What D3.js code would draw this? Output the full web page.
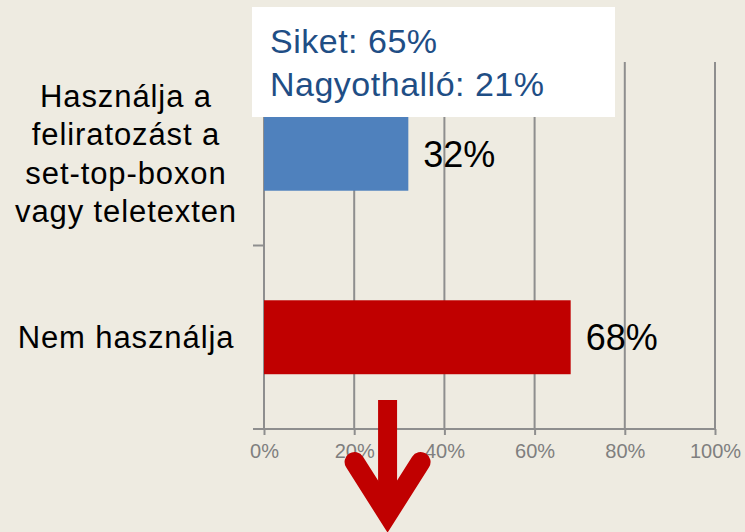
<!DOCTYPE html>
<html>
<head>
<meta charset="utf-8">
<script src="https://cdnjs.cloudflare.com/ajax/libs/d3/7.8.5/d3.min.js"></script>
<style>
  body { margin: 0; background: #EEEBE1; }
  svg { display: block; font-family: "Liberation Sans", Arial, sans-serif; }
</style>
</head>
<body>
<svg id="chart" width="745" height="532"></svg>
<script>
// data
var categories = ["Használja a feliratozást a set-top-boxon vagy teletexten", "Nem használja"];
var categoryLines = [["Használja a", "feliratozást a", "set-top-boxon", "vagy teletexten"], ["Nem használja"]];
var values = [32, 68];
var barColors = ["#4F81BD", "#C00000"];
var tickValues = [0, 20, 40, 60, 80, 100];
var noteLines = ["Siket: 65%", "Nagyothalló: 21%"];

var svg = d3.select("#chart");
var W = 745, H = 532;

svg.append("rect").attr("width", W).attr("height", H).attr("fill", "#EEEBE1");

var x = d3.scaleLinear().domain([0, 100]).range([264, 715]);
var y = d3.scaleBand().domain(categories).range([62, 429])
  .paddingInner(0.597).paddingOuter(0.2985);

// gridlines
svg.append("g").selectAll("line")
  .data(tickValues.slice(1))
  .enter().append("line")
  .attr("x1", d => x(d)).attr("x2", d => x(d))
  .attr("y1", 62).attr("y2", 429)
  .attr("stroke", "#8E8E8E").attr("stroke-width", 2);

// x axis
var xAxis = d3.axisBottom(x).tickValues(tickValues).tickFormat(d => d + "%")
  .tickSizeInner(6).tickSizeOuter(0).tickPadding(9);
var gx = svg.append("g").attr("transform", "translate(0,429)").call(xAxis);
gx.select(".domain").remove();
gx.selectAll(".tick line").attr("stroke", "#8E8E8E").attr("stroke-width", 2);
gx.selectAll(".tick text").attr("fill", "#7F7F7F").attr("font-size", 20)
  .attr("font-family", "'Liberation Sans', Arial, sans-serif");
gx.append("line").attr("x1", 253).attr("x2", x(100)).attr("y1", 0).attr("y2", 0)
  .attr("stroke", "#8E8E8E").attr("stroke-width", 2);

// y axis line + band boundary ticks
svg.append("line").attr("x1", x(0)).attr("x2", x(0)).attr("y1", 62).attr("y2", 429)
  .attr("stroke", "#8E8E8E").attr("stroke-width", 2);
var step = y.step();
svg.append("g").selectAll("line")
  .data(d3.range(categories.length))
  .enter().append("line")
  .attr("x1", 253).attr("x2", x(0))
  .attr("y1", i => 62 + i * step).attr("y2", i => 62 + i * step)
  .attr("stroke", "#8E8E8E").attr("stroke-width", 2);

// bars
svg.append("g").selectAll("rect")
  .data(values)
  .enter().append("rect")
  .attr("x", x(0))
  .attr("y", (d, i) => y(categories[i]))
  .attr("width", d => x(d) - x(0))
  .attr("height", y.bandwidth())
  .attr("fill", (d, i) => barColors[i]);

// value labels
svg.append("g").selectAll("text")
  .data(values)
  .enter().append("text")
  .attr("x", d => x(d) + 15)
  .attr("y", (d, i) => y(categories[i]) + y.bandwidth() / 2 + 13)
  .attr("font-size", 36)
  .attr("fill", "#000")
  .text(d => d + "%");

// category labels
var lineH = 38.5;
categories.forEach(function (c, i) {
  var lines = categoryLines[i];
  var cy = y(c) + y.bandwidth() / 2;
  var t = svg.append("text")
    .attr("text-anchor", "middle")
    .attr("font-size", 31)
    .attr("letter-spacing", 0.9)
    .attr("fill", "#000");
  lines.forEach(function (ln, j) {
    t.append("tspan")
      .attr("x", 126)
      .attr("y", cy + 10.5 + (j - (lines.length - 1) / 2) * lineH)
      .text(ln);
  });
});

// note box
svg.append("rect").attr("x", 252).attr("y", 7).attr("width", 363).attr("height", 110)
  .attr("fill", "#FFFFFF");
svg.append("g").selectAll("text")
  .data(noteLines)
  .enter().append("text")
  .attr("x", 270)
  .attr("y", (d, i) => 53 + i * 43)
  .attr("font-size", 34)
  .attr("letter-spacing", 0.5)
  .attr("fill", "#1F4E85")
  .text(d => d);

// arrow annotation
var ax = x(27.4);
var arrow = svg.append("g").attr("fill", "none").attr("stroke", "#C00000");
arrow.append("line").attr("x1", ax).attr("x2", ax).attr("y1", 400).attr("y2", 515)
  .attr("stroke-width", 19);
arrow.append("path")
  .attr("d", "M" + (ax - 33) + ",462L" + ax + ",514L" + (ax + 33) + ",462")
  .attr("stroke-width", 20)
  .attr("stroke-linecap", "round")
  .attr("stroke-linejoin", "miter");
</script>
</body>
</html>
